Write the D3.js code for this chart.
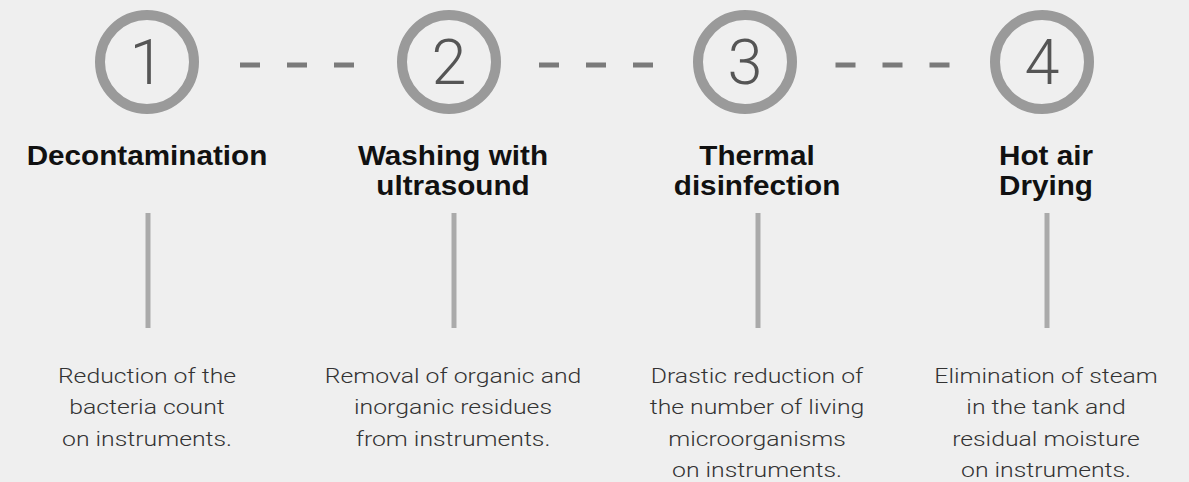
<!DOCTYPE html>
<html lang="en">

<head>
  <meta charset="UTF-8">
  <script src="https://cdn.jsdelivr.net/npm/d3@7"></script>
  <title>Steps</title>
  <style>
    body { margin: 0; background: #efefef; }
  </style>
</head>

<body>
  <svg width="1189" height="482"></svg>
  <script>
    var steps = ["1", "2", "3", "4"];
    var titles = [
      ["Decontamination"],
      ["Washing with", "ultrasound"],
      ["Thermal", "disinfection"],
      ["Hot air", "Drying"]
    ];
    var descriptions = [
      ["Reduction of the", "bacteria count", "on instruments."],
      ["Removal of organic and", "inorganic residues", "from instruments."],
      ["Drastic reduction of", "the number of living", "microorganisms", "on instruments."],
      ["Elimination of steam", "in the tank and", "residual moisture", "on instruments."]
    ];

    var svg = d3.select("svg");
    var width = +svg.attr("width");
    var height = +svg.attr("height");

    svg.append("rect")
      .attr("width", width)
      .attr("height", height)
      .attr("fill", "#efefef");

    // circles sit on a near-even grid, text columns are a bit shifted
    var circleX = d3.scaleOrdinal().domain(steps).range([147, 449, 745, 1042]);
    var colX = d3.scaleOrdinal().domain(steps).range([147, 453, 757, 1046]);
    var cy = 62;
    var r = 47;

    // dashed connectors between circles
    var links = d3.pairs(steps);
    svg.selectAll(".link")
      .data(links)
      .enter()
      .append("line")
      .attr("x1", d => (circleX(d[0]) + circleX(d[1])) / 2 - 58)
      .attr("x2", d => (circleX(d[0]) + circleX(d[1])) / 2 + 58)
      .attr("y1", cy + 3)
      .attr("y2", cy + 3)
      .attr("stroke", "#7a7a7a")
      .attr("stroke-width", 5)
      .attr("stroke-dasharray", "20,27");

    var gs = svg.selectAll(".step")
      .data(steps)
      .enter()
      .append("g");

    gs.append("circle")
      .attr("cx", d => circleX(d))
      .attr("cy", cy)
      .attr("r", r)
      .attr("fill", "none")
      .attr("stroke", "#9a9a9a")
      .attr("stroke-width", 10);

    gs.append("text")
      .attr("x", d => circleX(d))
      .attr("y", cy + 22)
      .attr("text-anchor", "middle")
      .attr("font-family", "Roboto, 'Liberation Sans', sans-serif")
      .attr("font-weight", 300)
      .attr("font-size", 63)
      .attr("fill", "#555")
      .text(d => d);

    // titles
    gs.append("text")
      .attr("transform", d => `translate(${colX(d)},165) scale(1.06,1)`)
      .attr("text-anchor", "middle")
      .attr("font-family", "'Liberation Sans', Arial, sans-serif")
      .attr("font-weight", "bold")
      .attr("font-size", 28)
      .attr("fill", "#111")
      .selectAll("tspan")
      .data((d, i) => titles[i])
      .enter()
      .append("tspan")
      .attr("x", 0)
      .attr("dy", (t, j) => j === 0 ? 0 : 30)
      .text(t => t);

    // vertical rules
    gs.append("line")
      .attr("x1", d => colX(d) + 1)
      .attr("x2", d => colX(d) + 1)
      .attr("y1", 213)
      .attr("y2", 328)
      .attr("stroke", "#aaa")
      .attr("stroke-width", 5);

    // descriptions
    gs.append("text")
      .attr("transform", d => `translate(${colX(d)},383) scale(1.18,1)`)
      .attr("text-anchor", "middle")
      .attr("font-family", "Roboto, 'Liberation Sans', sans-serif")
      .attr("font-weight", 300)
      .attr("font-size", 21)
      .attr("fill", "#333")
      .selectAll("tspan")
      .data((d, i) => descriptions[i])
      .enter()
      .append("tspan")
      .attr("x", 0)
      .attr("dy", (t, j) => j === 0 ? 0 : 31.5)
      .text(t => t);
  </script>
</body>

</html>
